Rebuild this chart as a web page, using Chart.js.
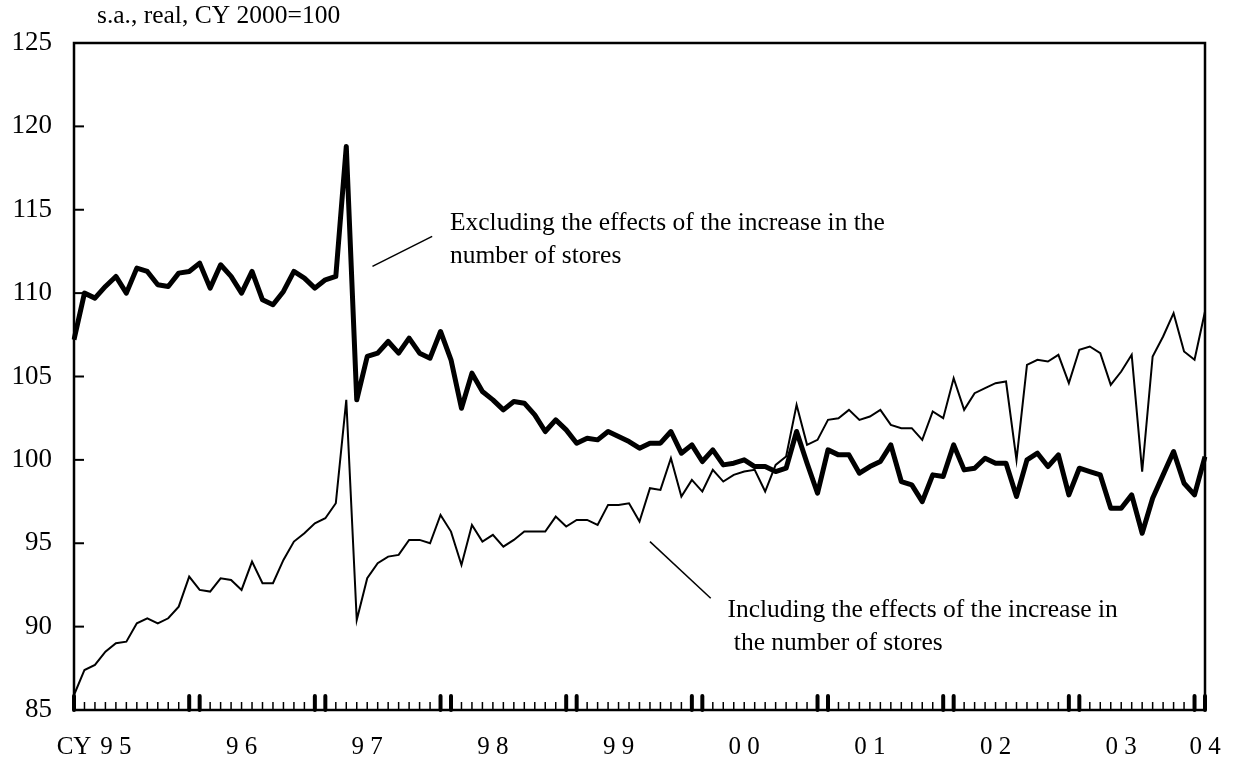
<!DOCTYPE html>
<html>
<head>
<meta charset="utf-8">
<script src="https://cdn.jsdelivr.net/npm/chart.js@4"></script>
<style>
  html, body { margin: 0; padding: 0; background: #fff; }
</style>
</head>
<body>
<canvas id="chart" width="1233" height="760"></canvas>
<script>
// monthly, Jan 1995 .. Jan 2004
const years = [1995, 1996, 1997, 1998, 1999, 2000, 2001, 2002, 2003];
const months = [];
years.forEach(y => { for (let m = 1; m <= 12; m++) months.push(y + '-' + m); });
months.push('2004-1');

// tick labels shown under the axis (one per year)
const yearLabels = ['9 5', '9 6', '9 7', '9 8', '9 9', '0 0', '0 1', '0 2', '0 3'];
const endLabel = '0 4';
const axisNote = 'CY';
const unitNote = 's.a., real, CY 2000=100';

// excluding the effects of the increase in the number of stores (thick)
const excluding = [
  107.2, 110.0, 109.7, 110.4, 111.0, 110.0, 111.5, 111.3, 110.5, 110.4, 111.2, 111.3,
  111.8, 110.3, 111.7, 111.0, 110.0, 111.3, 109.6, 109.3, 110.1, 111.3, 110.9, 110.3,
  110.8, 111.0, 118.8, 103.6, 106.2, 106.4, 107.1, 106.4, 107.3, 106.4, 106.1, 107.7,
  106.0, 103.1, 105.2, 104.1, 103.6, 103.0, 103.5, 103.4, 102.7, 101.7, 102.4, 101.8,
  101.0, 101.3, 101.2, 101.7, 101.4, 101.1, 100.7, 101.0, 101.0, 101.7, 100.4, 100.9,
  99.9, 100.6, 99.7, 99.8, 100.0, 99.6, 99.6, 99.3, 99.5, 101.7, 99.8, 98.0,
  100.6, 100.3, 100.3, 99.2, 99.6, 99.9, 100.9, 98.7, 98.5, 97.5, 99.1, 99.0,
  100.9, 99.4, 99.5, 100.1, 99.8, 99.8, 97.8, 100.0, 100.4, 99.6, 100.3, 97.9,
  99.5, 99.3, 99.1, 97.1, 97.1, 97.9, 95.6, 97.7, 99.1, 100.5, 98.6, 97.9,
  100.2
];

// including the effects of the increase in the number of stores (thin)
const including = [
  85.9, 87.4, 87.7, 88.5, 89.0, 89.1, 90.2, 90.5, 90.2, 90.5, 91.2, 93.0,
  92.2, 92.1, 92.9, 92.8, 92.2, 93.9, 92.6, 92.6, 94.0, 95.1, 95.6, 96.2,
  96.5, 97.4, 103.6, 90.4, 92.9, 93.8, 94.2, 94.3, 95.2, 95.2, 95.0, 96.7,
  95.7, 93.7, 96.1, 95.1, 95.5, 94.8, 95.2, 95.7, 95.7, 95.7, 96.6, 96.0,
  96.4, 96.4, 96.1, 97.3, 97.3, 97.4, 96.3, 98.3, 98.2, 100.1, 97.8, 98.8,
  98.1, 99.4, 98.7, 99.1, 99.3, 99.4, 98.1, 99.7, 100.2, 103.3, 100.9, 101.2,
  102.4, 102.5, 103.0, 102.4, 102.6, 103.0, 102.1, 101.9, 101.9, 101.2, 102.9, 102.5,
  104.9, 103.0, 104.0, 104.3, 104.6, 104.7, 100.0, 105.7, 106.0, 105.9, 106.3, 104.6,
  106.6, 106.8, 106.4, 104.5, 105.3, 106.3, 99.3, 106.2, 107.4, 108.8, 106.5, 106.0,
  108.9
];

// callout texts, anchored in data units (month index, value)
const notes = [
  { lines: ['Excluding the effects of the increase in the', 'number of stores'],
    text: [35.9, 114.2], from: [28.5, 111.6], to: [34.2, 113.4] },
  { lines: ['Including the effects of the increase in', ' the number of stores'],
    text: [62.4, 91.0], from: [55.0, 95.1], to: [60.8, 91.7] }
];

const FONT = 'Liberation Serif, Times New Roman, serif';

const frame = {
  id: 'frame',
  afterDatasetsDraw(chart) {
    const { ctx, chartArea: a } = chart;
    const x = chart.scales.x, y = chart.scales.y;
    ctx.save();
    ctx.strokeStyle = '#000';
    ctx.fillStyle = '#000';

    // y ticks (inward)
    ctx.lineWidth = 2;
    for (let v = 85; v <= 125; v += 5) {
      const py = y.getPixelForValue(v);
      ctx.beginPath();
      ctx.moveTo(a.left, py);
      ctx.lineTo(a.left + 10, py);
      ctx.stroke();
    }

    // x ticks (inward), heavier at the year turn
    months.forEach((m, i) => {
      const px = x.getPixelForValue(i);
      const major = i % 12 === 11 || i % 12 === 0;
      ctx.lineWidth = major ? 4 : 1.5;
      ctx.lineCap = major ? 'round' : 'butt';
      ctx.beginPath();
      ctx.moveTo(px, a.bottom);
      ctx.lineTo(px, a.bottom - (major ? 14 : 8));
      ctx.stroke();
    });
    ctx.lineCap = 'butt';

    // frame
    ctx.lineWidth = 2.5;
    ctx.strokeRect(a.left, a.top, a.right - a.left, a.bottom - a.top);

    // callouts
    ctx.font = '25.5px ' + FONT;
    ctx.textBaseline = 'middle';
    ctx.textAlign = 'left';
    notes.forEach(n => {
      ctx.lineWidth = 1.5;
      ctx.beginPath();
      ctx.moveTo(x.getPixelForValue(n.from[0]), y.getPixelForValue(n.from[1]));
      ctx.lineTo(x.getPixelForValue(n.to[0]), y.getPixelForValue(n.to[1]));
      ctx.stroke();
      const tx = x.getPixelForValue(n.text[0]);
      const ty = y.getPixelForValue(n.text[1]);
      n.lines.forEach((t, k) => ctx.fillText(t, tx, ty + k * 33));
    });

    // unit note above the plot
    ctx.font = '25.5px ' + FONT;
    ctx.fillText(unitNote, 97, 16);
    ctx.restore();
  }
};

const ctx = document.getElementById('chart').getContext('2d');
new Chart(ctx, {
  type: 'line',
  data: {
    labels: months,
    datasets: [{
      label: 'Excluding the effects of the increase in the number of stores',
      data: excluding,
      borderColor: '#000',
      borderWidth: 5,
      borderJoinStyle: 'round',
      pointRadius: 0,
      tension: 0
    }, {
      label: 'Including the effects of the increase in the number of stores',
      data: including,
      borderColor: '#000',
      borderWidth: 2,
      pointRadius: 0,
      tension: 0
    }]
  },
  options: {
    responsive: false,
    animation: false,
    layout: { padding: { top: 43, right: 28, left: 0, bottom: 0 } },
    plugins: { legend: { display: false }, tooltip: { enabled: false } },
    scales: {
      x: {
        type: 'category',
        offset: false,
        grid: { display: false, drawTicks: false },
        border: { display: false },
        ticks: {
          autoSkip: false,
          maxRotation: 0,
          minRotation: 0,
          padding: 22,
          color: '#000',
          font: { family: FONT, size: 25 },
          callback: (v, i) => {
            if (i === 0) return axisNote;
            if (i === months.length - 1) return endLabel;
            if (i % 12 === 4) return yearLabels[Math.floor(i / 12)];
            return '';
          }
        },
        afterFit: s => { s.height = 50; s.paddingLeft = 0; s.paddingRight = 0; }
      },
      y: {
        min: 85,
        max: 125,
        grid: { display: false, drawTicks: false },
        border: { display: false },
        ticks: {
          stepSize: 5,
          padding: 22,
          color: '#000',
          font: { family: FONT, size: 27 }
        },
        afterFit: s => { s.width = 74; s.paddingTop = 0; s.paddingBottom = 0; }
      }
    }
  },
  plugins: [frame]
});
</script>
</body>
</html>
